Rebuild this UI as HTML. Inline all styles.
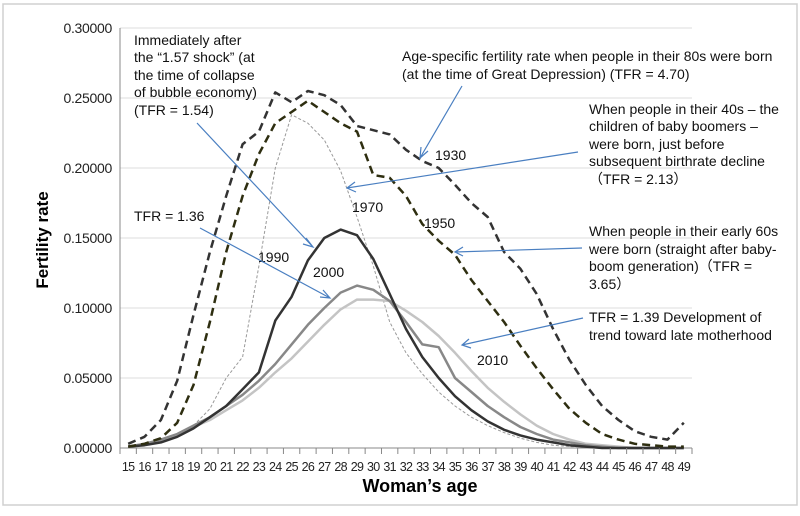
<!DOCTYPE html>
<html><head><meta charset="utf-8"><style>
body{margin:0;background:#fff}
svg{display:block;font-family:"Liberation Sans",sans-serif}
.t{font-size:14px;fill:#111}
.tk{font-size:12.5px;fill:#222;letter-spacing:-0.7px}
</style></head><body>
<svg id="s" width="800" height="516" viewBox="0 0 800 516" xmlns="http://www.w3.org/2000/svg">
<rect x="3" y="4" width="794" height="501" fill="#fff" stroke="#d0d0d0" stroke-width="1.5"/>
<g stroke="#dcdcdc" stroke-width="1">
<line x1="120" x2="692" y1="28" y2="28"/><line x1="120" x2="692" y1="98" y2="98"/>
<line x1="120" x2="692" y1="168" y2="168"/><line x1="120" x2="692" y1="238" y2="238"/>
<line x1="120" x2="692" y1="308" y2="308"/><line x1="120" x2="692" y1="378" y2="378"/>
</g>
<g id="ax" stroke="#888" stroke-width="1"><line x1="120" y1="28" x2="120" y2="448"/><line x1="120" y1="448" x2="692" y2="448"/></g>
<g class="tk" text-anchor="end" style="font-size:14px;letter-spacing:-0.3px">
<text x="112" y="33">0.30000</text><text x="112" y="103">0.25000</text><text x="112" y="173">0.20000</text>
<text x="112" y="243">0.15000</text><text x="112" y="313">0.10000</text><text x="112" y="383">0.05000</text><text x="112" y="453">0.00000</text>
</g>
<g id="series"></g>
<g id="ticks"></g>
<text x="48" y="240" transform="rotate(-90 48 240)" text-anchor="middle" style="font-size:17px;font-weight:bold">Fertility rate</text>
<text x="420" y="492" text-anchor="middle" style="font-size:18px;font-weight:bold">Woman’s age</text>
<g class="t">
<text x="134" y="45">Immediately after</text><text x="134" y="62">the “1.57 shock” (at</text><text x="134" y="80">the time of collapse</text><text x="134" y="97">of bubble economy)</text><text x="134" y="115">(TFR = 1.54)</text>
<text x="134" y="221">TFR = 1.36</text>
<text x="402" y="61">Age-specific fertility rate when people in their 80s were born</text>
<text x="402" y="79">(at the time of Great Depression) (TFR = 4.70)</text>
<text x="589" y="114">When people in their 40s – the</text><text x="589" y="131">children of baby boomers –</text><text x="589" y="149">were born, just before</text><text x="589" y="166">subsequent birthrate decline</text><text x="589" y="184">（TFR = 2.13）</text>
<text x="589" y="236">When people in their early 60s</text><text x="589" y="254">were born (straight after baby-</text><text x="589" y="271">boom generation)（TFR =</text><text x="589" y="289">3.65）</text>
<text x="589" y="322">TFR = 1.39 Development of</text><text x="589" y="340">trend toward late motherhood</text>
<text x="435" y="160">1930</text><text x="352" y="212">1970</text><text x="424" y="228">1950</text>
<text x="258" y="262">1990</text><text x="313" y="277">2000</text><text x="477" y="365">2010</text>
</g>
<g stroke="#4a7fc1" stroke-width="1.2" fill="none">
<path d="M197 123 L313 247 M306 238 L313 247 L303 244"/>
<path d="M200 228 L330 298 M320 297 L330 298 L323 290"/>
<path d="M462 86 L420 158 M421 147 L420 158 L428 151"/>
<path d="M578 152 L347 188 M355 182 L347 188 L356 192"/>
<path d="M582 248 L455 252 M463 247 L455 252 L463 256"/>
<path d="M583 318 L462 345 M469 339 L462 345 L471 348"/>
</g>
</svg>
<script>
const X=i=>120+16.343*(i+0.5), Y=v=>448-v*1400;
const d={
a:[.003,.008,.02,.048,.095,.14,.18,.217,.226,.254,.247,.255,.252,.245,.23,.227,.224,.213,.205,.2,.188,.175,.165,.14,.128,.11,.085,.063,.045,.03,.02,.012,.008,.006,.018],
b:[.001,.003,.007,.018,.045,.09,.14,.18,.21,.232,.24,.248,.24,.232,.226,.195,.193,.18,.16,.148,.138,.12,.105,.09,.073,.057,.042,.028,.018,.01,.006,.003,.002,.001,.001],
c:[.001,.002,.004,.008,.016,.028,.05,.065,.13,.2,.238,.232,.22,.198,.165,.13,.09,.068,.053,.04,.03,.022,.016,.011,.007,.004,.002,.001,.001,0,0,0,0,0,0],
e:[.001,.003,.006,.01,.016,.022,.03,.038,.048,.06,.074,.088,.1,.111,.116,.113,.105,.09,.074,.072,.05,.04,.03,.022,.015,.01,.006,.004,.002,.001,0,0,0,0,0],
f:[.001,.003,.005,.009,.015,.02,.027,.034,.043,.054,.064,.076,.088,.099,.106,.106,.105,.098,.09,.08,.068,.055,.043,.033,.024,.016,.01,.006,.003,.002,.001,0,0,0,0],
g:[.001,.002,.004,.008,.014,.022,.03,.042,.054,.091,.108,.134,.15,.156,.152,.135,.11,.085,.065,.05,.037,.027,.019,.013,.009,.006,.004,.002,.001,0,0,0,0,0,0]};
const st={c:'stroke="#999" stroke-width="1" stroke-dasharray="3 2"',f:'stroke="#c4c4c4" stroke-width="2.5"',e:'stroke="#888" stroke-width="2.5"',g:'stroke="#333" stroke-width="2.5"',b:'stroke="#2e2e10" stroke-width="2.5" stroke-dasharray="8 5"',a:'stroke="#333" stroke-width="2.5" stroke-dasharray="8 5"'};
let h='';for(const k of ['c','f','e','g','b','a']){h+='<polyline fill="none" stroke-linejoin="round" '+st[k]+' points="'+d[k].map((v,i)=>X(i).toFixed(1)+','+Y(v).toFixed(1)).join(' ')+'"/>';}
document.getElementById('series').innerHTML=h;
let t='';for(let i=0;i<=35;i++){const x=120+16.343*i;t+='<line x1="'+x+'" x2="'+x+'" y1="448" y2="454" stroke="#888"/>';}
for(let i=0;i<35;i++)t+='<text class="tk" x="'+X(i)+'" y="471" text-anchor="middle">'+(15+i)+'</text>';
document.getElementById('ticks').innerHTML=t;
</script>
</body></html>
